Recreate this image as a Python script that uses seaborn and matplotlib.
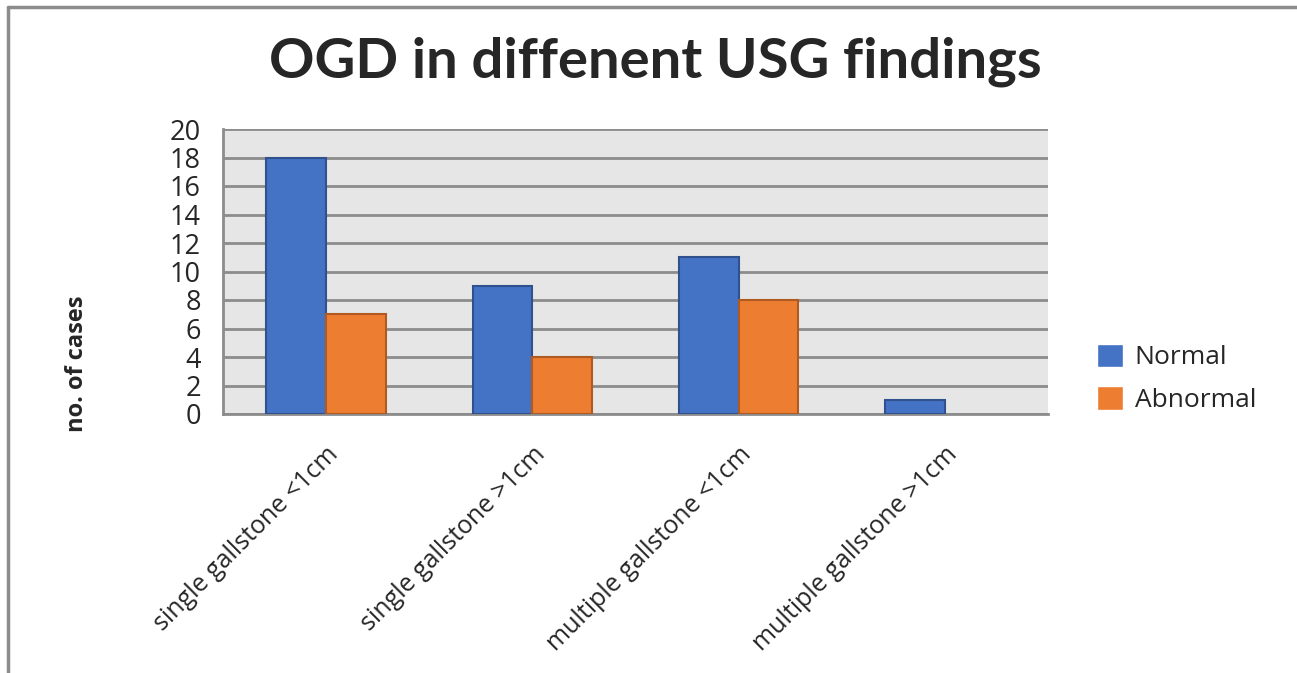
import seaborn as sns
import matplotlib.pyplot as plt
import pandas as pd
from matplotlib.lines import Line2D

# values
categories = ['single gallstone <1cm', 'single gallstone >1cm',
              'multiple gallstone <1cm', 'multiple gallstone >1cm']
normal = [18, 9, 11, 1]
abnormal = [7, 4, 8, 0]
series = ['Normal', 'Abnormal']
yticks = list(range(0, 21, 2))

df = pd.DataFrame({
    'finding': categories * 2,
    'cases': normal + abnormal,
    'group': [series[0]] * 4 + [series[1]] * 4,
})

sns.set_style('white')
plt.rcParams['font.family'] = ['Open Sans', 'DejaVu Sans']

fig = plt.figure(figsize=(12.97, 6.73), dpi=100)
ax = fig.add_axes([223 / 1297, 1 - 414 / 673, 825 / 1297, 285 / 673])

colors = {'Normal': '#4472C4', 'Abnormal': '#ED7D31'}
edges = {'Normal': '#2F528F', 'Abnormal': '#AE5A21'}
sns.barplot(data=df, x='finding', y='cases', hue='group', palette=colors,
            width=0.58, ax=ax, zorder=3, saturation=1)

for cont, name in zip(ax.containers, series):
    for bar in cont:
        bar.set_edgecolor(edges[name])
        bar.set_linewidth(1.5 if bar.get_height() > 0 else 0)

ax.set_facecolor('#e6e6e6')
ax.set_ylim(0, 20)
ax.set_yticks(yticks)
ax.set_xlim(-0.5, 3.5)
ax.yaxis.grid(True, color='#8c8c8c', linewidth=2, zorder=0)
ax.set_axisbelow(True)
for s in ['top', 'right']:
    ax.spines[s].set_visible(False)
ax.spines['left'].set_color('#8c8c8c')
ax.spines['left'].set_linewidth(2)
ax.spines['bottom'].set_color('#8c8c8c')
ax.spines['bottom'].set_linewidth(2)
ax.tick_params(axis='y', length=15, width=2, color='#8c8c8c',
               labelsize=19.5, pad=1)
ax.tick_params(axis='x', length=0, labelsize=18, pad=20)
plt.setp(ax.get_xticklabels(), rotation=45, ha='right',
         rotation_mode='anchor')

ax.set_xlabel('')
ax.set_ylabel('no. of cases', fontsize=17, fontweight='bold',
              labelpad=0)
ax.yaxis.set_label_coords(-0.163, 0.175)

ax.legend(loc='center left', bbox_to_anchor=(1.03, 0.125), frameon=False,
          fontsize=19, handlelength=1.0, handleheight=1.0,
          labelspacing=0.6, handletextpad=0.45)

fig.text(655 / 1297, 1 - 62 / 673, 'OGD in diffenent USG findings',
         ha='center', va='center', fontsize=40.5, fontweight='bold',
         family=['Lato', 'DejaVu Sans'])

# outer frame: only top and left edges show in the source image
fig.add_artist(Line2D([8 / 1297, 8 / 1297], [0, 1 - 7 / 673],
                      transform=fig.transFigure, color='#8c8c8c', lw=2.5))
fig.add_artist(Line2D([8 / 1297, 1], [1 - 7 / 673, 1 - 7 / 673],
                      transform=fig.transFigure, color='#8c8c8c', lw=2.5))

fig.savefig('out.png', dpi=100)
